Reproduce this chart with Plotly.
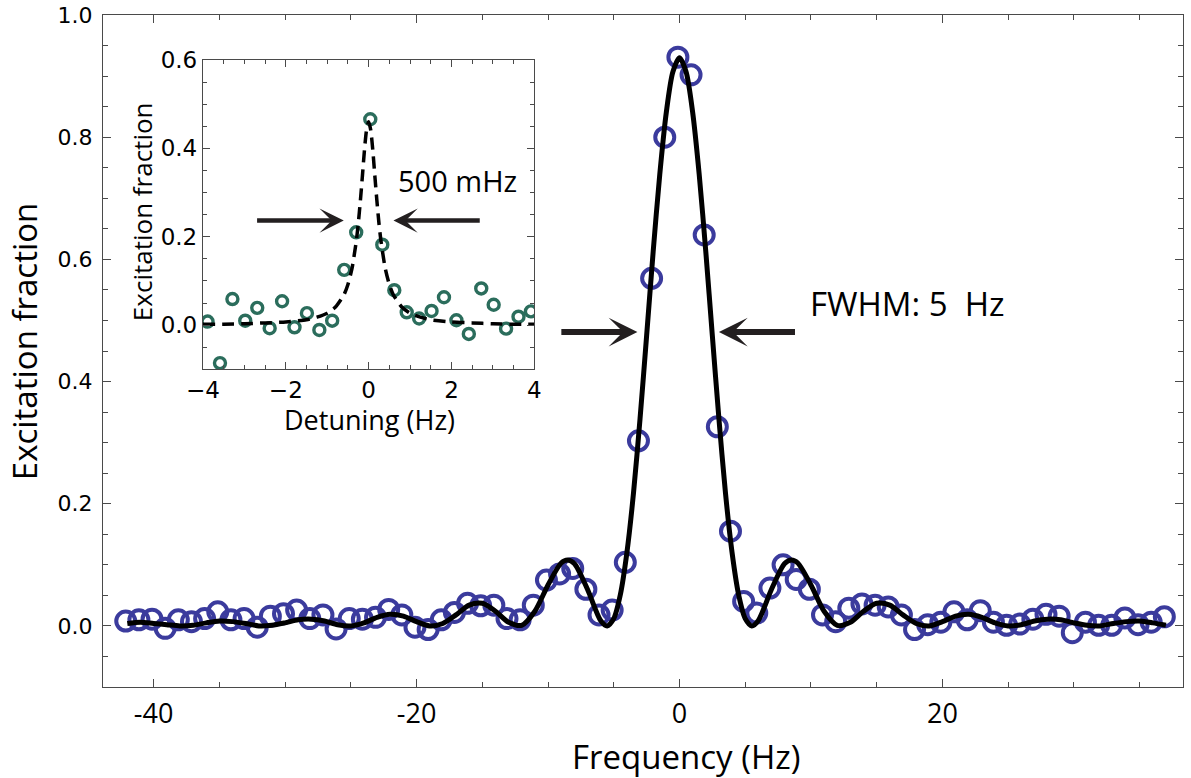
import plotly.graph_objects as go

# ---- main spectrum: measured excitation vs. laser frequency ----
freq_hz = [-42.12, -41.12, -40.12, -39.12, -38.12, -37.12, -36.12, -35.12, -34.12, -33.12,
           -32.12, -31.12, -30.12, -29.12, -28.12, -27.12, -26.12, -25.12, -24.12, -23.12,
           -22.12, -21.12, -20.12, -19.12, -18.12, -17.12, -16.12, -15.12, -14.12, -13.12,
           -12.12, -11.12, -10.12, -9.12, -8.12, -7.12, -6.12, -5.12, -4.12, -3.12,
           -2.12, -1.12, -0.12, 0.88, 1.88, 2.88, 3.88, 4.88, 5.88, 6.88,
           7.88, 8.88, 9.88, 10.88, 11.88, 12.88, 13.88, 14.88, 15.88, 16.88,
           17.88, 18.88, 19.88, 20.88, 21.88, 22.88, 23.88, 24.88, 25.88, 26.88,
           27.88, 28.88, 29.88, 30.88, 31.88, 32.88, 33.88, 34.88, 35.88, 36.88]
excitation = [0.008, 0.010, 0.011, -0.004, 0.010, 0.007, 0.012, 0.023, 0.010, 0.012,
              -0.002, 0.016, 0.020, 0.026, 0.012, 0.018, -0.005, 0.012, 0.011, 0.014,
              0.027, 0.018, -0.002, -0.006, 0.010, 0.022, 0.037, 0.033, 0.034, 0.012,
              0.010, 0.034, 0.075, 0.085, 0.094, 0.060, 0.018, 0.026, 0.104, 0.303,
              0.569, 0.800, 0.931, 0.902, 0.640, 0.326, 0.155, 0.040, 0.021, 0.062,
              0.100, 0.076, 0.060, 0.018, 0.007, 0.029, 0.036, 0.034, 0.031, 0.018,
              -0.006, 0.002, 0.006, 0.023, 0.010, 0.025, 0.006, 0.001, 0.003, 0.011,
              0.019, 0.016, -0.011, 0.006, 0.001, 0.001, 0.013, 0.002, 0.006, 0.015]

# fitted Rabi lineshape, sampled along the frequency axis
fit_freq = [-42, -41, -40, -39, -38, -37, -36, -35, -34, -33, -32, -31, -30, -29, -28,
            -27, -26, -25, -24, -23, -22, -21, -20, -19, -18, -17, -16, -15, -14, -13,
            -12, -11, -10, -9, -8.5, -8, -7, -6, -5.5, -5, -4.5, -4, -3.5, -3, -2.5, -2,
            -1.5, -1, -0.5, 0, 0.5, 1, 1.5, 2, 2.5, 3, 3.5, 4, 4.5, 5, 5.5, 6, 7, 8, 8.5,
            9, 10, 11, 12, 13, 14, 15, 16, 17, 18, 19, 20, 21, 22, 23, 24, 25, 26, 27,
            28, 29, 30, 31, 32, 33, 34, 35, 36, 37]
fit_exc = [0.004, 0.006, 0.004, 0.002, 0.000, 0.001, 0.005, 0.008, 0.007, 0.004, 0.000,
           0.001, 0.005, 0.010, 0.011, 0.008, 0.002, 0.000, 0.005, 0.014, 0.019, 0.016,
           0.007, 0.000, 0.004, 0.018, 0.034, 0.037, 0.024, 0.006, 0.001, 0.024, 0.067,
           0.103, 0.108, 0.102, 0.060, 0.009, 0.000, 0.012, 0.051, 0.120, 0.217, 0.339,
           0.475, 0.613, 0.739, 0.841, 0.907, 0.930, 0.907, 0.841, 0.739, 0.613, 0.475,
           0.339, 0.217, 0.120, 0.051, 0.012, 0.000, 0.009, 0.060, 0.102, 0.108, 0.103,
           0.067, 0.024, 0.001, 0.006, 0.024, 0.037, 0.034, 0.018, 0.004, 0.000, 0.007,
           0.016, 0.019, 0.014, 0.005, 0.000, 0.002, 0.008, 0.011, 0.010, 0.005, 0.001,
           0.000, 0.004, 0.007, 0.008, 0.005, 0.001]

# ---- inset: narrow line scan ----
detuning_hz = [-3.89, -3.59, -3.29, -2.98, -2.69, -2.39, -2.09, -1.79, -1.49, -1.19,
               -0.88, -0.59, -0.30, 0.04, 0.33, 0.62, 0.92, 1.22, 1.52, 1.82,
               2.12, 2.42, 2.72, 3.02, 3.32, 3.62, 3.92]
inset_exc = [0.008, -0.086, 0.059, 0.010, 0.039, -0.007, 0.054, -0.005, 0.027, -0.011,
             0.010, 0.125, 0.210, 0.466, 0.182, 0.079, 0.029, 0.015, 0.032, 0.063,
             0.011, -0.020, 0.083, 0.046, -0.008, 0.019, 0.031]

# fitted Lorentzian for the inset
lor_det = [-4, -3.5, -3, -2.5, -2, -1.5, -1.25, -1, -0.8, -0.6, -0.5, -0.4, -0.3, -0.25,
           -0.2, -0.15, -0.1, -0.05, 0, 0.05, 0.1, 0.15, 0.2, 0.25, 0.3, 0.4, 0.5, 0.6,
           0.8, 1, 1.25, 1.5, 2, 2.5, 3, 3.5, 4]
lor_exc = [0.002, 0.002, 0.003, 0.005, 0.007, 0.012, 0.018, 0.027, 0.041, 0.068, 0.092,
           0.129, 0.189, 0.230, 0.281, 0.338, 0.397, 0.442, 0.460, 0.442, 0.397, 0.338,
           0.281, 0.230, 0.189, 0.129, 0.092, 0.068, 0.041, 0.027, 0.018, 0.012, 0.007,
           0.005, 0.003, 0.002, 0.002]

MAIN_FWHM_LABEL = "FWHM: 5\u00a0 Hz"
INSET_FWHM_LABEL = "500 mHz"

AXIS = "#4a4a4a"
ARROW = "#231f20"
BLUE = "#3b3b9d"
GREEN = "#2b6d5c"
TITLE_FONT = "Open Sans"
NUM_FONT = "DejaVu Sans"

fig = go.Figure()

fig.add_trace(go.Scatter(
    x=freq_hz, y=excitation, mode="markers",
    marker=dict(symbol="circle-open", size=19, color=BLUE, line=dict(width=4, color=BLUE)),
    xaxis="x", yaxis="y", hoverinfo="skip"))
fig.add_trace(go.Scatter(
    x=fit_freq, y=fit_exc, mode="lines",
    line=dict(color="black", width=5, shape="spline", smoothing=0.8),
    xaxis="x", yaxis="y", hoverinfo="skip"))

fig.add_trace(go.Scatter(
    x=detuning_hz, y=inset_exc, mode="markers",
    marker=dict(symbol="circle-open", size=11, color=GREEN, line=dict(width=3.4, color=GREEN)),
    xaxis="x2", yaxis="y2", hoverinfo="skip"))
fig.add_trace(go.Scatter(
    x=lor_det, y=lor_exc, mode="lines",
    line=dict(color="black", width=3.5, dash="12px,7px", shape="spline", smoothing=0.6),
    xaxis="x2", yaxis="y2", hoverinfo="skip"))

frame = dict(showline=True, linecolor=AXIS, linewidth=1.3, mirror="ticks",
             ticks="inside", tickcolor=AXIS, tickwidth=1.2, showgrid=False, zeroline=False)

fig.update_layout(
    width=1191, height=778,
    margin=dict(l=103, r=1, t=15, b=91),
    paper_bgcolor="white", plot_bgcolor="white",
    showlegend=False,
    xaxis=dict(**frame, range=[-43.85, 38.3], tickvals=[-40, -20, 0, 20],
               ticktext=["-40", "-20", "0", "20"], ticklen=8,
               minor=dict(dtick=5, tick0=0, ticks="inside", ticklen=5, tickcolor=AXIS),
               tickfont=dict(family=TITLE_FONT, size=27, color="black"),
               ticklabelstandoff=2),
    yaxis=dict(**frame, range=[-0.1, 1.0], dtick=0.2, tick0=0, tickformat=".1f", ticklen=8,
               minor=dict(dtick=0.05, tick0=0, ticks="inside", ticklen=5, tickcolor=AXIS),
               tickfont=dict(family=NUM_FONT, size=22, color="black"),
               ticklabelstandoff=5),
    xaxis2=dict(**frame, domain=[0.0926, 0.3993], anchor="y2", range=[-4, 4], dtick=2, tick0=0,
                ticklen=7,
                minor=dict(dtick=0.5, tick0=0, ticks="inside", ticklen=4, tickcolor=AXIS),
                tickfont=dict(family=NUM_FONT, size=23, color="black")),
    yaxis2=dict(**frame, domain=[0.4728, 0.933], anchor="x2", range=[-0.1, 0.6], dtick=0.2,
                tick0=0, tickformat=".1f", ticklen=7,
                minor=dict(dtick=0.05, tick0=0, ticks="inside", ticklen=4, tickcolor=AXIS),
                tickfont=dict(family=NUM_FONT, size=23, color="black")),
)

annotations = [
    # axis titles
    dict(text="Frequency (Hz)", xref="paper", yref="paper", x=0.5396, y=-0.103,
         showarrow=False, xanchor="center", yanchor="middle",
         font=dict(family=TITLE_FONT, size=33, color="black")),
    dict(text="Excitation fraction", xref="paper", yref="paper", x=-0.072, y=0.515,
         showarrow=False, textangle=-90, xanchor="center", yanchor="middle",
         font=dict(family=TITLE_FONT, size=33, color="black")),
    dict(text="Detuning (Hz)", xref="paper", yref="paper", x=0.2472, y=0.3985,
         showarrow=False, xanchor="center", yanchor="middle",
         font=dict(family=TITLE_FONT, size=27, color="black")),
    dict(text="Excitation fraction", xref="paper", yref="paper", x=0.0362, y=0.7068,
         showarrow=False, textangle=-90, xanchor="center", yanchor="middle",
         font=dict(family=TITLE_FONT, size=26, color="black")),
    # linewidth labels
    dict(text=MAIN_FWHM_LABEL, xref="x", yref="y", x=9.78, y=0.528, showarrow=False,
         xanchor="left", yanchor="middle", font=dict(family=TITLE_FONT, size=33, color="black")),
    dict(text=INSET_FWHM_LABEL, xref="x2", yref="y2", x=0.67, y=0.327, showarrow=False,
         xanchor="left", yanchor="middle", font=dict(family=TITLE_FONT, size=29, color="black")),
]

# arrows bracketing the main line (tip, tail) at the half-maximum height
main_arrows = [(-3.2, -9.1), (3.0, 8.9)]
for tip, tail in main_arrows:
    annotations.append(dict(x=tip, y=0.481, ax=tail, ay=0.481, xref="x", yref="y",
                            axref="x", ayref="y", text="", showarrow=True, arrowhead=3,
                            arrowsize=0.8, arrowwidth=6, arrowcolor=ARROW, standoff=0))

inset_arrows = [(-0.60, -2.73), (0.60, 2.72)]
for tip, tail in inset_arrows:
    annotations.append(dict(x=tip, y=0.2365, ax=tail, ay=0.2365, xref="x2", yref="y2",
                            axref="x2", ayref="y2", text="", showarrow=True, arrowhead=3,
                            arrowsize=0.9, arrowwidth=4.5, arrowcolor=ARROW, standoff=0))

fig.update_layout(annotations=annotations)

fig.write_html("out.html")
